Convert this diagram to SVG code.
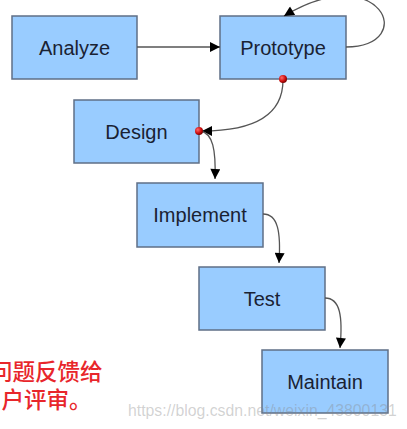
<svg xmlns="http://www.w3.org/2000/svg" width="407" height="429" viewBox="0 0 407 429">
<style>
.box{fill:#99ccff;stroke:#5f6f86;stroke-width:1.5}
.lbl{font-family:"Liberation Sans",Arial,sans-serif;font-size:20px;fill:#1a2233;text-anchor:middle}
.con{fill:none;stroke:#555;stroke-width:1.3}
.cn{font-family:"Noto Sans CJK SC",sans-serif;font-size:22.5px;font-weight:500;fill:#e8262b}
.wm{font-family:"Liberation Sans",Arial,sans-serif;font-size:15.8px;fill:#888;fill-opacity:0.38}
</style>
<defs>
<marker id="ah" viewBox="0 0 10 10" refX="10" refY="5" markerWidth="13" markerHeight="10" markerUnits="userSpaceOnUse" orient="auto">
<path d="M0,0 L10,5 L0,10 Z" fill="#000"/>
</marker>
<radialGradient id="dot" cx="0.35" cy="0.35" r="0.7">
<stop offset="0" stop-color="#ff6a6a"/>
<stop offset="0.6" stop-color="#d01010"/>
<stop offset="1" stop-color="#700000"/>
</radialGradient>
</defs>
<g id="analyze"><rect class="box" x="12" y="16" width="125" height="63"/><text class="lbl" x="74.5" y="55">Analyze</text></g>
<g id="prototype"><rect class="box" x="220" y="16" width="126" height="63"/><text class="lbl" x="283" y="55">Prototype</text></g>
<g id="design"><rect class="box" x="74" y="100" width="125" height="63"/><text class="lbl" x="136.5" y="139">Design</text></g>
<g id="implement"><rect class="box" x="137" y="183" width="126" height="64"/><text class="lbl" x="200" y="222">Implement</text></g>
<g id="test"><rect class="box" x="199" y="267" width="126" height="63"/><text class="lbl" x="262" y="306">Test</text></g>
<g id="maintain"><rect class="box" x="262" y="350" width="126" height="63"/><text class="lbl" x="325" y="389">Maintain</text></g>
<g id="connectors">
<path class="con" d="M137,47 L220,47" marker-end="url(#ah)"/>
<path class="con" d="M346,47 C420,46 380,-42 284,16" marker-end="url(#ah)"/>
<path class="con" d="M283,80 C283,115 255,131 202,131" marker-end="url(#ah)"/>
<path class="con" d="M200,131 C213,133 216,150 215,179" marker-end="url(#ah)"/>
<path class="con" d="M263,214 C278,214 281,232 279,263" marker-end="url(#ah)"/>
<path class="con" d="M325,298 C340,298 343,316 340,348" marker-end="url(#ah)"/>
<circle cx="283" cy="79" r="4" fill="url(#dot)"/>
<circle cx="199" cy="131" r="4" fill="url(#dot)"/>
</g>
<text class="cn" x="-10" y="380">问题反馈给</text>
<text class="cn" x="-21" y="408">用户评审。</text>
<text class="wm" x="128" y="416">https://blog.csdn.net/weixin_43800131</text>
</svg>
